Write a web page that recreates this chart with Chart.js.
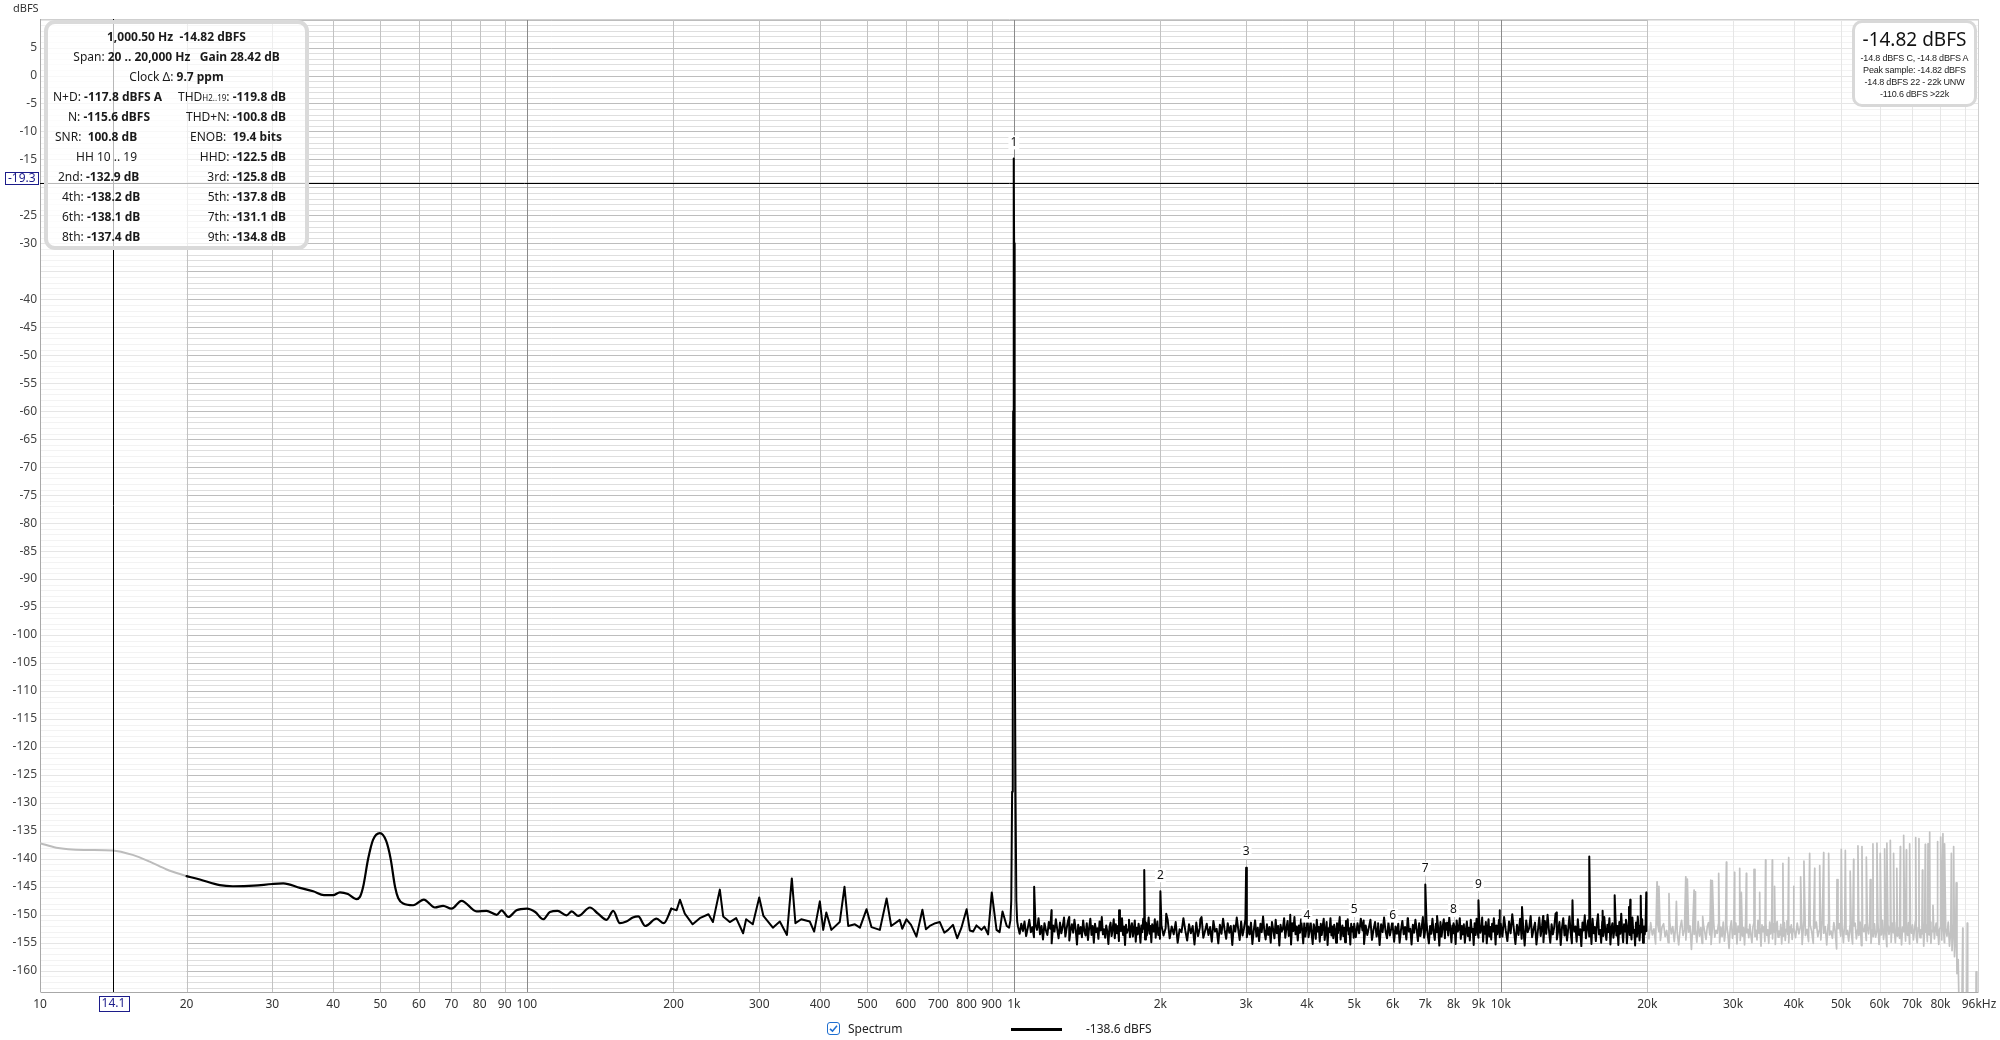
<!DOCTYPE html>
<html><head><meta charset="utf-8">
<script src="https://cdn.jsdelivr.net/npm/chart.js@4.4.1/dist/chart.umd.min.js"></script>
<style>
html,body{margin:0;padding:0;background:#fff;}
body{width:2000px;height:1040px;overflow:hidden;position:relative;font-family:"Noto Sans",sans-serif;color:#1a1a1a;}
#c{position:absolute;left:0;top:0;}
.r{position:absolute;white-space:pre;font-size:12px;line-height:16px;height:16px;}
.c{left:44px;width:265px;text-align:center;}
.rr{right:1714px;text-align:right;}
b{font-weight:700;}
#info{position:absolute;left:44px;top:20px;width:257px;height:222px;border:4px solid #dadada;border-radius:11px;background:rgba(255,255,255,0.72);}
#lvl{position:absolute;left:1852px;top:20px;width:119px;height:81px;border:3px solid #d8d8d8;border-radius:10px;background:#fff;}
.s{position:absolute;left:1852px;width:125px;text-align:center;white-space:pre;font-family:"Liberation Sans Narrow","Liberation Sans",sans-serif;font-size:9px;line-height:12px;letter-spacing:-0.2px;color:#222;}
</style></head><body>
<canvas id="c" width="2000" height="1040"></canvas>
<div class="r" style="left:13px;top:0px;font-size:11px;color:#333;">dBFS</div>

<div id="info"></div>
<div class="r c" style="top:29px"><b>1,000.50 Hz&nbsp;&nbsp;-14.82 dBFS</b></div>
<div class="r c" style="top:49px">Span: <b>20 .. 20,000 Hz</b>&nbsp;&nbsp; <b>Gain 28.42 dB</b></div>
<div class="r c" style="top:69px">Clock Δ: <b>9.7 ppm</b></div>
<div class="r" style="left:53px;top:89px">N+D: <b>-117.8 dBFS A</b></div>
<div class="r rr" style="top:89px">THD<span style="font-size:8px">H2..19</span>: <b>-119.8 dB</b></div>
<div class="r" style="left:68px;top:109px">N: <b>-115.6 dBFS</b></div>
<div class="r rr" style="top:109px">THD+N: <b>-100.8 dB</b></div>
<div class="r" style="left:55px;top:129px">SNR:&nbsp; <b>100.8 dB</b></div>
<div class="r rr" style="top:129px;right:1718px">ENOB:&nbsp; <b>19.4 bits</b></div>
<div class="r" style="left:76px;top:149px">HH 10 .. 19</div>
<div class="r rr" style="top:149px">HHD: <b>-122.5 dB</b></div>
<div class="r" style="left:58px;top:169px">2nd: <b>-132.9 dB</b></div>
<div class="r rr" style="top:169px">3rd: <b>-125.8 dB</b></div>
<div class="r" style="left:62px;top:189px">4th: <b>-138.2 dB</b></div>
<div class="r rr" style="top:189px">5th: <b>-137.8 dB</b></div>
<div class="r" style="left:62px;top:209px">6th: <b>-138.1 dB</b></div>
<div class="r rr" style="top:209px">7th: <b>-131.1 dB</b></div>
<div class="r" style="left:62px;top:229px">8th: <b>-137.4 dB</b></div>
<div class="r rr" style="top:229px">9th: <b>-134.8 dB</b></div>

<div id="lvl"></div>
<div class="s" style="top:27px;font-family:'Noto Sans',sans-serif;font-size:19px;line-height:24px;letter-spacing:0;color:#111;">-14.82 dBFS</div>
<div class="s" style="top:52px">-14.8 dBFS C, -14.8 dBFS A</div>
<div class="s" style="top:64px">Peak sample: -14.82 dBFS</div>
<div class="s" style="top:76px">-14.8 dBFS 22 - 22k UNW</div>
<div class="s" style="top:88px">-110.6 dBFS &gt;22k</div>

<div style="position:absolute;left:827px;top:1022px;width:11px;height:11px;border:1.5px solid #1f6fd0;border-radius:3px;background:#fff;">
<svg width="11" height="11" viewBox="0 0 11 11" style="position:absolute;left:0;top:0"><polyline points="2,5.8 4.5,8.2 9,2.8" fill="none" stroke="#1f6fd0" stroke-width="1.6"/></svg></div>
<div class="r" style="left:848px;top:1021px;color:#222;">Spectrum</div>
<div style="position:absolute;left:1011px;top:1028px;width:51px;height:3px;background:#000;"></div>
<div class="r" style="left:1086px;top:1021px;color:#222;">-138.6 dBFS</div>

<script>
// ---------- axis / tick data ----------
const xMin = 10, xMax = 96000, yMin = -163.8, yMax = 10.1;
const xTickValues = [10,20,30,40,50,60,70,80,90,100,200,300,400,500,600,700,800,900,1000,2000,3000,4000,5000,6000,7000,8000,9000,10000,20000,30000,40000,50000,60000,70000,80000,90000,96000];
const xTickLabels = ['10','20','30','40','50','60','70','80','90','100','200','300','400','500','600','700','800','900','1k','2k','3k','4k','5k','6k','7k','8k','9k','10k','20k','30k','40k','50k','60k','70k','80k','','96kHz'];
const yTickValues = [5,0,-5,-10,-15,-25,-30,-40,-45,-50,-55,-60,-65,-70,-75,-80,-85,-90,-95,-100,-105,-110,-115,-120,-125,-130,-135,-140,-145,-150,-155,-160];
const spanFreqs = [20, 20000];
const cursorFreq = 14.1, cursorLevel = -19.3;

// ---------- harmonic markers ----------
const harmonicNames = ['1','2','3','4','5','6','7','8','9'];
const harmonicFreqs = [1000,2000,3000,4000,5000,6000,7000,8000,9000];
const harmonicLevels = [-14.82,-145.8,-141.6,-153.0,-152.0,-153.0,-144.6,-152.0,-147.4];

// ---------- spectrum: below span (grey) ----------
const lowGrayFreqs = [10,10.8,12.3,14.1,15.5,16.8,18.2,20];
const lowGrayLevels = [-137.2,-138.0,-138.4,-138.5,-139.3,-140.5,-141.9,-143.1];

// ---------- spectrum: 20 Hz .. 200 Hz ----------
const lowBlackFreqs = [20,21.3,23.4,24.9,27.5,30,31.6,34.2,36.4,38.3,40,41.3,42.9,44.6,45.4,46.1,47.2,48.3,49.9,51.4,52.5,53.6,54.4,55.7,58.4,61.4,64.7,67.3,70,73.4,78.8,82.6,86.7,88.7,91.6,95.2,100,104,108,111.5,115.6,120.6,123.6,127.5,134.7,140,145.8,150.4,155.2,160,165,169.3,175,184.6,191,198];
const lowBlackLevels = [-143.1,-143.7,-144.7,-144.9,-144.8,-144.5,-144.4,-145.2,-145.8,-146.5,-146.5,-146.0,-146.3,-147.2,-146.8,-145.0,-140.0,-136.6,-135.4,-136.8,-140.0,-145.0,-147.0,-148.0,-148.3,-147.3,-148.7,-148.4,-148.9,-147.5,-149.4,-149.3,-150.0,-149.2,-150.4,-149.2,-148.9,-149.5,-150.8,-149.5,-149.3,-150.1,-149.4,-150.2,-148.7,-149.8,-150.9,-149.3,-151.5,-151.2,-150.5,-150.3,-152.0,-150.7,-151.5,-148.9];

// ---------- spectrum: 200 Hz .. 1 kHz ----------
const midFreqs = [198,203,206.2,211,219,226.5,236,241,249,253,261,269,278,282,291,300,306,320,330.7,342,350,356,366,381,389,399.6,406,412,422,439,449,457,471.6,483,498.4,510,530.7,548,560,583,590,602,615,631,649,660,672,690,704.7,720,733,750,765,780,800,812,825,838,851,858,870,885.5,901,921.5,935,948,967];
const midLevels = [-148.9,-149.2,-147.3,-149.8,-151.7,-150.6,-149.9,-151.3,-145.5,-150.3,-151.3,-150.6,-153.3,-150.8,-151.7,-146.9,-150.2,-152.3,-151.2,-153.6,-143.5,-151.5,-150.8,-151.2,-153.0,-147.6,-152.7,-149.6,-152.7,-151.3,-145.0,-152.0,-151.7,-152.3,-149.0,-152.2,-152.7,-147.1,-152.0,-150.9,-152.5,-150.8,-151.8,-153.9,-149.1,-152.6,-152.0,-151.5,-151.3,-153.2,-152.7,-151.8,-154.2,-152.4,-149.0,-152.8,-153.0,-151.9,-152.4,-152.7,-152.1,-153.5,-146.0,-152.7,-153.1,-149.4,-152.0];

// ---------- fundamental ----------
const peakFreqs = [978,984,988,992,995,997,998.5,999.5,1000,1000.5,1001.5,1003,1005,1008,1012,1016];
const peakLevels = [-152.3,-151.0,-147.5,-128,-95,-60,-30,-18,-14.82,-18,-30,-60,-95,-128,-147.5,-151.2];

// ---------- noise floor, FFT bins (start Hz, bin step Hz, levels) ----------
const noise1Start = 1020, noise1Step = 8;
const noise1 = [-152.1,-153.4,-151.6,-152.9,-151.2,-153.8,-152.4,-150.9,-153.1,-152.2,
-154.0,-151.8,-152.7,-150.6,-153.5,-152.0,-154.4,-151.5,-152.8,-153.6,
-151.3,-152.5,-155.1,-151.9,-153.0,-150.8,-152.6,-154.2,-151.4,-153.3,
-152.1,-150.5,-153.9,-152.4,-151.1,-154.6,-152.8,-151.7,-153.2,-150.9,
-152.6,-155.3,-151.8,-153.4,-152.2,-154.0,-151.0,-152.9,-153.7,-151.5,
-154.5,-152.3,-150.7,-153.6,-152.0,-155.0,-151.6,-153.1,-152.4,-154.3,
-151.2,-152.8,-150.4,-153.5,-152.6,-154.1,-151.9,-153.0,-155.2,-152.2,
-151.4,-153.8,-152.5,-150.8,-154.2,-151.7,-153.3,-152.0,-154.7,-151.3,
-152.9,-150.6,-153.6,-152.1,-155.4,-151.8,-153.2,-152.6,-150.9,-154.0,
-152.4,-151.5,-153.9,-152.7,-151.0,-154.8,-152.3,-153.5,-151.6,-152.8,
-155.0,-151.9,-153.1,-150.7,-152.5,-154.4,-151.4,-153.7,-152.2,-150.5,
-153.4,-152.0,-154.9,-151.7,-153.0,-152.6,-150.8,-154.1,-152.3,-151.2,
-153.6,-152.4,-154.3];
const noise2Start = 2010, noise2Step = 20;
const noise2 = [-151.9,-153.7,-152.4,-150.9,-154.2,-152.1,-153.5,-151.3,-155.0,-152.6,
-153.1,-150.6,-152.8,-154.6,-151.7,-153.3,-152.0,-155.3,-151.4,-153.8,
-152.3,-150.4,-154.1,-152.9,-151.6,-153.6,-152.2,-154.8,-151.1,-153.0,
-152.5,-155.1,-151.8,-153.4,-150.7,-152.7,-154.3,-151.5,-153.2,-152.0,
-155.4,-151.9,-153.0,-150.5,-152.6,-154.5,-151.2,-153.7,-152.4,-150.8,
-154.0,-152.1,-153.5,-151.4,-155.2,-152.8,-151.0,-153.9,-152.3,-154.7,
-151.6,-153.1,-150.3,-152.9,-154.4,-151.7,-153.6,-152.2,-155.0,-151.3,
-152.7,-154.2,-150.9,-153.3,-152.0,-155.5,-151.8,-153.0,-152.5,-150.6,
-154.1,-152.4,-151.1,-153.8,-152.6,-155.3,-151.5,-152.9,-150.4,-153.5,
-152.1,-154.6,-151.9,-153.2,-150.8,-152.7,-155.1,-151.4,-153.9,-152.3,
-150.5,-154.0,-152.8,-151.2,-153.4,-155.2,-151.7,-152.5,-154.3,-150.9,
-153.0,-152.2,-154.8,-151.6,-153.6,-152.0,-150.7,-154.5,-152.9,-151.3,
-155.4,-152.4,-153.1,-150.6,-153.7,-152.1,-154.2,-151.8,-152.6,-155.0,
-151.5,-153.3,-152.0,-150.4,-154.4,-152.7,-151.9,-153.8,-152.3,-154.9,
-151.1,-152.8,-150.8,-153.5,-152.4,-155.3,-151.6,-153.0,-152.2,-154.1];
const noise3Start = 5000, noise3Step = 40;
const noise3 = [-152.2,-154.0,-151.5,-153.3,-150.7,-152.8,-155.2,-151.9,-153.6,-152.3,
-150.9,-154.5,-152.6,-151.3,-153.9,-152.0,-155.4,-151.7,-153.1,-150.5,
-152.9,-154.2,-151.4,-153.7,-152.4,-150.8,-154.8,-152.1,-153.4,-151.6,
-155.0,-152.7,-151.1,-153.5,-152.2,-154.4,-150.6,-153.0,-152.5,-155.3,
-151.8,-153.2,-150.9,-152.6,-154.7,-151.5,-153.8,-152.3,-150.4,-154.1,
-152.8,-151.2,-153.6,-155.1,-152.0,-153.4,-150.7,-152.9,-154.5,-151.6,
-153.1,-152.4,-155.5,-151.3,-153.9,-152.1,-150.8,-154.2,-152.7,-151.4,
-153.7,-150.5,-152.5,-154.9,-151.9,-153.3,-152.2,-155.2,-151.0,-153.0,
-152.6,-150.6,-154.3,-152.0,-153.5,-151.7,-155.0,-152.8,-151.2,-153.8,
-152.3,-154.6,-150.9,-153.1,-152.5,-155.4,-151.5,-153.6,-150.7,-152.9,
-154.1,-151.8,-153.2,-152.4,-150.5,-154.8,-152.1,-153.4,-151.3,-155.1,
-152.7,-150.8,-153.9,-152.2,-154.4,-151.6,-153.0,-150.6,-152.5,-155.3,
-151.9,-153.5,-152.3,-150.9,-154.0];
const noise4Start = 10000, noise4Step = 80;
const noise4 = [-151.6,-153.9,-150.4,-152.8,-154.7,-151.2,-153.3,-149.9,-152.5,-155.2,
-151.8,-153.6,-150.7,-154.3,-152.1,-155.5,-151.0,-153.1,-152.4,-150.2,
-154.0,-152.6,-151.4,-155.3,-152.9,-150.5,-153.8,-152.0,-154.9,-151.1,
-153.4,-150.0,-152.7,-155.0,-151.7,-153.5,-152.2,-149.8,-154.4,-152.9,
-151.3,-155.4,-152.3,-150.6,-153.7,-151.9,-154.6,-152.5,-150.3,-153.2,
-155.1,-151.5,-153.0,-152.1,-154.8,-150.8,-153.6,-152.6,-155.6,-151.4,
-152.8,-150.1,-154.2,-152.4,-151.0,-153.9,-152.0,-155.2,-150.7,-153.3,
-152.2,-154.7,-151.6,-149.9,-153.5,-152.7,-155.0,-151.2,-153.8,-150.4,
-152.9,-154.5,-151.8,-153.1,-150.6,-155.3,-152.3,-151.5,-154.1,-152.6,
-150.2,-153.7,-152.0,-155.4,-151.3,-153.4,-149.8,-152.8,-154.9,-151.7,
-153.0,-150.9,-155.1,-152.5,-151.1,-153.6,-152.2,-154.4,-150.5,-153.2,
-152.7,-155.5,-151.4,-153.9,-150.3,-152.4,-154.6,-151.9,-153.1,-150.8,
-155.0,-152.1,-153.5,-151.6,-152.9];
const blackSpikeFreqs = [1101,1195,1299,1645,1853,2000,2056,2416,3000,3696,4000,5000,5230,5600,6000,6450,7000,7400,7700,8000,9000,9950,11060,12220,13030,14040,15200,16190,17140,18340,18450,19390,19900];
const blackSpikeLevels = [-145.0,-149.2,-150.4,-149.2,-142.0,-145.8,-149.8,-150.8,-141.6,-150.0,-152.0,-151.6,-151.0,-151.5,-152.0,-150.8,-144.6,-150.2,-151.5,-151.5,-147.4,-149.2,-148.6,-150.2,-149.6,-147.4,-139.6,-149.3,-146.5,-148.6,-147.3,-146.6,-146.0];

// ---------- above span (grey) ----------
const noise5Start = 20000, noise5Step = 160;
const noise5 = [-152.0,-154.3,-151.4,-153.6,-152.5,-155.2,-151.1,-153.0,-154.6,-152.2,
-151.6,-153.9,-152.8,-155.0,-151.3,-153.4,-152.1,-154.8,-151.8,-153.2,
-155.4,-152.4,-151.0,-153.7,-152.7,-154.5,-151.5,-153.1,-152.0,-156.2,
-151.9,-153.5,-152.6,-154.9,-151.2,-153.8,-152.3,-155.1,-151.7,-153.0,
-154.4,-152.1,-151.4,-153.6,-155.3,-152.5,-151.0,-154.0,-152.8,-153.3,
-151.6,-155.0,-152.2,-153.9,-151.3,-154.7,-152.9,-151.8,-153.4,-156.0,
-152.4,-151.1,-154.2,-152.7,-153.5,-151.5,-155.2,-152.0,-153.1,-154.6,
-151.9,-153.8,-152.3,-155.4,-151.2,-153.2,-152.6,-154.1,-151.7,-153.6,
-155.0,-152.2,-151.4,-153.9,-152.8,-154.5,-151.0,-153.3,-152.5,-155.6,
-151.8,-153.0,-152.1,-154.8,-151.5,-153.7,-152.7,-155.1,-151.3,-153.4,
-152.4,-154.3,-151.6,-153.1,-155.3,-152.0,-151.2,-154.0,-152.9,-153.6,
-151.7,-155.2,-152.3,-153.8,-151.4,-154.6,-152.6,-151.1,-153.5,-155.0,
-152.1,-153.2,-151.8,-154.4,-152.5];
const noise6Start = 40000, noise6Step = 320;
const noise6 = [-152.3,-154.1,-151.5,-153.4,-152.0,-155.3,-151.2,-153.7,-152.6,-154.8,
-151.8,-153.0,-155.1,-152.4,-151.3,-153.9,-152.7,-154.5,-151.0,-153.3,
-152.1,-155.4,-151.7,-153.6,-152.9,-154.2,-151.4,-153.1,-156.1,-152.5,
-151.6,-153.8,-152.2,-155.0,-151.1,-153.5,-152.8,-154.7,-151.9,-153.2,
-155.2,-152.0,-151.5,-154.3,-152.6,-153.7,-151.3,-155.5,-152.4,-153.0,
-151.8,-154.6,-152.1,-153.4,-151.2,-155.1,-152.7,-153.9,-151.6,-154.0,
-152.9,-151.4,-155.3,-152.3,-153.6,-151.0,-154.4,-152.5,-153.1,-155.7,
-151.7,-153.5,-152.0,-154.9,-151.5,-153.2,-152.8,-155.0,-151.3,-153.8,
-152.4,-154.2,-151.9,-155.4,-152.2,-153.0,-151.1,-154.7,-152.6,-153.7,
-151.4,-155.2,-152.1,-153.3,-151.8,-154.5,-152.9,-151.2,-153.9,-155.0,
-152.3,-151.6,-154.1,-152.7,-153.4,-151.0,-155.6,-152.5,-153.1,-151.9,
-154.8,-152.2,-153.6,-151.3,-155.1,-152.8,-153.0,-151.7,-154.3,-152.4,
-151.5,-153.7,-152.0,-155.3,-152.6];
const noise7Start = 80000, noise7Step = 500;
const noise7 = [-152.2,-154.5,-151.6,-155.0,-152.4,-153.8,-151.3,-155.6,-152.8,-156.4,
-151.9,-157.5,-153.0,-160.5,-158.0,-170,-175,-168,-178,-172,
-180,-176,-182,-175,-180,-183,-178,-185,-180,-184,
-178,-182,-180];
const graySpikeFreqs = [20940,21130,22160,22950,23990,24170,24950,25100,25990,27000,27200,28030,29070,30230,30960,31200,31950,33130,34030,34990,36120,36510,37980,39030,39970,41300,41950,43100,44140,45200,46050,47150,49050,50060,51020,52210,53060,54160,55200,56350,57400,58140,59250,60180,61440,62100,63120,64100,65080,66180,67230,68080,69160,71160,72270,73460,74470,75430,76030,77220,78830,80080,80950,81580,84240,85150,86180,88900,90800,94700];
const graySpikeLevels = [-144.1,-144.9,-146.2,-147.6,-143.2,-143.6,-145.6,-145.9,-150.3,-143.8,-143.9,-142.6,-140.6,-142.4,-141.7,-146.0,-142.6,-141.9,-146.0,-140.2,-140.2,-144.9,-140.8,-139.8,-144.9,-143.2,-140.4,-139.0,-141.7,-141.2,-138.9,-139.0,-143.7,-138.3,-138.5,-142.2,-140.1,-137.7,-137.8,-139.7,-143.7,-137.3,-137.2,-139.0,-138.2,-137.2,-136.7,-139.0,-141.7,-137.8,-135.8,-138.4,-137.3,-136.2,-136.4,-142.0,-137.4,-137.3,-135.2,-148.3,-136.9,-136.1,-135.5,-137.3,-139.0,-137.8,-144.3,-152.4,-151.5,-160.2];

// ---------- build library data ----------
const pts = (fs, ls) => fs.map((f, i) => ({x: f, y: ls[i]}));
const bins = (start, step, ls) => ls.map((l, i) => ({x: start + i * step, y: l}));
const byX = (a, b) => a.x - b.x;
const mainPoints = [].concat(
  pts(midFreqs, midLevels), pts(peakFreqs, peakLevels),
  bins(noise1Start, noise1Step, noise1), bins(noise2Start, noise2Step, noise2),
  bins(noise3Start, noise3Step, noise3), bins(noise4Start, noise4Step, noise4),
  pts(blackSpikeFreqs, blackSpikeLevels)).sort(byX);
const highGrayPoints = [].concat(
  bins(noise5Start, noise5Step, noise5), bins(noise6Start, noise6Step, noise6),
  bins(noise7Start, noise7Step, noise7), pts(graySpikeFreqs, graySpikeLevels)).sort(byX);

// ---------- styles ----------
const FONT = '"Noto Sans", sans-serif';
const decadeGrid = [100, 1000, 10000];
const cursorColor = '#1c1c8a';

const gridPlugin = {
  id: 'rewGrid',
  beforeDatasetsDraw(chart) {
    const {ctx, chartArea: a, scales: {x, y}} = chart;
    const s0 = x.getPixelForValue(spanFreqs[0]), s1 = x.getPixelForValue(spanFreqs[1]);
    ctx.save();
    ctx.lineWidth = 1;
    const hl = (x0, x1, py, c) => { ctx.strokeStyle = c; ctx.beginPath(); ctx.moveTo(x0, py); ctx.lineTo(x1, py); ctx.stroke(); };
    const vl = (px, c) => { ctx.strokeStyle = c; ctx.beginPath(); ctx.moveTo(px, a.top); ctx.lineTo(px, a.bottom); ctx.stroke(); };
    for (let v = Math.ceil(y.min); v <= Math.floor(y.max); v++) {
      const py = Math.round(y.getPixelForValue(v)) + 0.5;
      const major = v % 5 === 0;
      hl(a.left, a.right, py, major ? '#e6e6e6' : '#f3f3f3');
      hl(s0, s1, py, major ? '#bdbdbd' : '#dedede');
    }
    xTickValues.forEach(v => {
      if (v <= xMin || v >= xMax) return;
      const px = Math.round(x.getPixelForValue(v)) + 0.5;
      let c = '#c2c2c2';
      if (decadeGrid.includes(v)) c = '#8a8a8a';
      else if (v > spanFreqs[1]) c = '#e6e6e6';
      vl(px, c);
    });
    const L = Math.round(a.left) + 0.5, R = Math.round(a.right) - 0.5, T = Math.round(a.top) + 0.5, B = Math.round(a.bottom) + 0.5;
    hl(L, R, T, '#cfcfcf'); vl(R, '#cfcfcf');
    vl(L, '#a8a8a8'); hl(L, R, B, '#a8a8a8');
    ctx.restore();
  },
  afterDatasetsDraw(chart) {
    const {ctx, chartArea: a, scales: {x, y}} = chart;
    ctx.save();
    ctx.strokeStyle = '#000'; ctx.lineWidth = 1;
    const cx = Math.round(x.getPixelForValue(cursorFreq)) + 0.5;
    const cy = Math.round(y.getPixelForValue(cursorLevel)) + 0.5;
    ctx.beginPath(); ctx.moveTo(cx, a.top); ctx.lineTo(cx, a.bottom); ctx.stroke();
    ctx.beginPath(); ctx.moveTo(a.left, cy); ctx.lineTo(a.right, cy); ctx.stroke();
    ctx.font = '12px ' + FONT; ctx.textAlign = 'center'; ctx.textBaseline = 'middle';
    harmonicFreqs.forEach((f, i) => {
      const px = x.getPixelForValue(f), py = y.getPixelForValue(harmonicLevels[i]) - 16;
      const w = ctx.measureText(harmonicNames[i]).width + 4;
      ctx.fillStyle = '#fff'; ctx.fillRect(px - w / 2, py - 7, w, 14);
      ctx.fillStyle = '#111'; ctx.fillText(harmonicNames[i], px, py);
    });
    ctx.restore();
  },
  afterDraw(chart) {
    const {ctx, chartArea: a, scales: {x, y}} = chart;
    ctx.save();
    ctx.font = '12px ' + FONT; ctx.textBaseline = 'middle'; ctx.textAlign = 'center';
    const cx = Math.round(x.getPixelForValue(cursorFreq)) + 0.5;
    const cy = Math.round(y.getPixelForValue(cursorLevel)) + 0.5;
    const t1 = String(cursorFreq), w1 = ctx.measureText(t1).width + 6;
    ctx.fillStyle = '#fff'; ctx.fillRect(cx - w1 / 2, a.bottom + 4, w1, 15);
    ctx.strokeStyle = cursorColor; ctx.strokeRect(Math.round(cx - w1 / 2) + 0.5, Math.round(a.bottom) + 4.5, Math.round(w1), 15);
    ctx.fillStyle = cursorColor; ctx.fillText(t1, cx, a.bottom + 12);
    const t2 = String(cursorLevel), w2 = ctx.measureText(t2).width + 5;
    const bx = Math.round(a.left - 2 - w2) + 0.5;
    ctx.fillStyle = '#fff'; ctx.fillRect(bx, cy - 11, w2, 12);
    ctx.strokeStyle = cursorColor; ctx.strokeRect(bx, cy - 11, Math.round(w2), 12);
    ctx.fillStyle = cursorColor; ctx.fillText(t2, bx + w2 / 2, cy - 4.5);
    ctx.restore();
  }
};

Chart.defaults.font.family = FONT;
new Chart(document.getElementById('c'), {
  type: 'line',
  data: {
    datasets: [
      {label: 'Spectrum', data: pts(lowBlackFreqs, lowBlackLevels), borderColor: '#000', borderWidth: 2.2, cubicInterpolationMode: 'monotone', clip: 0},
      {label: 'Spectrum', data: mainPoints, borderColor: '#000', borderWidth: 2, tension: 0, clip: 0},
      {label: 'below span', data: pts(lowGrayFreqs, lowGrayLevels), borderColor: '#bcbcbc', borderWidth: 2, cubicInterpolationMode: 'monotone', clip: 0},
      {label: 'above span', data: highGrayPoints, borderColor: '#c2c2c2', borderWidth: 1.7, tension: 0, clip: 0}
    ]
  },
  options: {
    responsive: false, animation: false, devicePixelRatio: 1, parsing: false, normalized: true,
    layout: {padding: {left: 0, right: 21, top: 19, bottom: 0}},
    elements: {point: {radius: 0}, line: {borderJoinStyle: 'round', borderCapStyle: 'round'}},
    plugins: {legend: {display: false}, tooltip: {enabled: false}},
    scales: {
      x: {
        type: 'logarithmic', min: xMin, max: xMax,
        grid: {display: false, drawTicks: false}, border: {display: false},
        afterBuildTicks: s => { s.ticks = xTickValues.map(v => ({value: v})); },
        afterFit: s => { s.height = 48; s.paddingLeft = 0; s.paddingRight = 0; },
        ticks: {autoSkip: false, maxRotation: 0, minRotation: 0, padding: 5, color: '#333', font: {size: 12},
          callback: v => { const i = xTickValues.indexOf(v); return i >= 0 ? xTickLabels[i] : ''; }}
      },
      y: {
        type: 'linear', min: yMin, max: yMax,
        grid: {display: false, drawTicks: false}, border: {display: false},
        afterBuildTicks: s => { s.ticks = yTickValues.map(v => ({value: v})); },
        afterFit: s => { s.width = 40; s.paddingTop = 0; s.paddingBottom = 0; },
        ticks: {padding: 3, color: '#444', font: {size: 12}, callback: v => String(v)}
      }
    }
  },
  plugins: [gridPlugin]
});
</script>
</body></html>
